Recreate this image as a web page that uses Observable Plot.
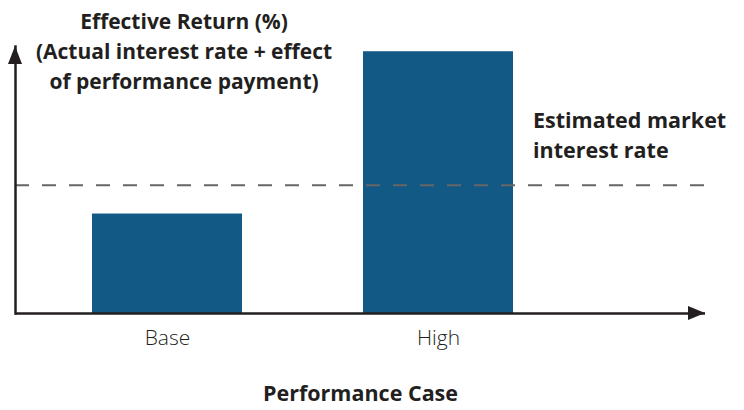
<!DOCTYPE html>
<html><head><meta charset="utf-8">
<script src="https://cdn.jsdelivr.net/npm/d3@7"></script>
<script src="https://cdn.jsdelivr.net/npm/@observablehq/plot@0.6"></script>
<style>
body{margin:0;background:#fff;}
#wrap{position:relative;width:744px;height:410px;font-family:"Open Sans",sans-serif;}
.t{position:absolute;color:#231f20;font-weight:700;font-size:21px;line-height:30px;}
</style></head><body>
<div id="wrap">
<div class="t" id="title" style="left:0;width:368px;top:6px;text-align:center;">Effective Return (%)<br>(Actual interest rate + effect<br>of performance payment)</div>
<div class="t" id="ann" style="left:533px;top:105px;font-size:21.5px;">Estimated market<br>interest rate</div>
</div>
<script>
const cases = ["Base", "High"];
const returns = [3.8, 10];
const marketRate = 4.9;
const xLabel = "Performance Case";

const data = cases.map((c, i) => ({case: c, value: returns[i]}));

const plot = Plot.plot({
  width: 744, height: 410,
  marginLeft: 15, marginRight: 39, marginTop: 46, marginBottom: 97,
  style: {fontFamily: "Open Sans, sans-serif", background: "transparent"},
  x: {domain: cases, paddingInner: 0.445, paddingOuter: 0.491, align: 0.288, label: null},
  y: {domain: [0, 10.2], axis: null},
  marks: [
    Plot.barY(data, {x: "case", y: "value", fill: "#125985"}),
    Plot.ruleY([marketRate], {stroke: "#666", strokeWidth: 2, strokeDasharray: "14,13"}),
    Plot.axisX({tickSize: 0, tickPadding: 17, fontSize: 21, fontWeight: 300, fill: "#231f20", label: null}),
    Plot.ruleY([0], {stroke: "#231f20", strokeWidth: 2.5}),
    Plot.frame({anchor: "left", stroke: "#231f20", strokeWidth: 2.5}),
    Plot.text([xLabel], {frameAnchor: "bottom", dy: 87, fontSize: 21.5, fontWeight: 700, fill: "#231f20"})
  ]
});
plot.style.position = "absolute";
plot.style.left = "0px";
plot.style.top = "0px";
plot.style.overflow = "visible";
document.getElementById("wrap").prepend(plot);

// arrowheads at the axis ends
const svg = d3.select(plot);
const x0 = 15, y0 = 410 - 97, xEnd = 744 - 39, yEnd = 46;
svg.append("path").attr("d", `M${xEnd},${y0}L${xEnd-17},${y0-7}L${xEnd-17},${y0+7}Z`).attr("fill", "#231f20");
svg.append("path").attr("d", `M${x0},${yEnd}L${x0-7},${yEnd+18}L${x0+7},${yEnd+18}Z`).attr("fill", "#231f20");
</script>
</body></html>
